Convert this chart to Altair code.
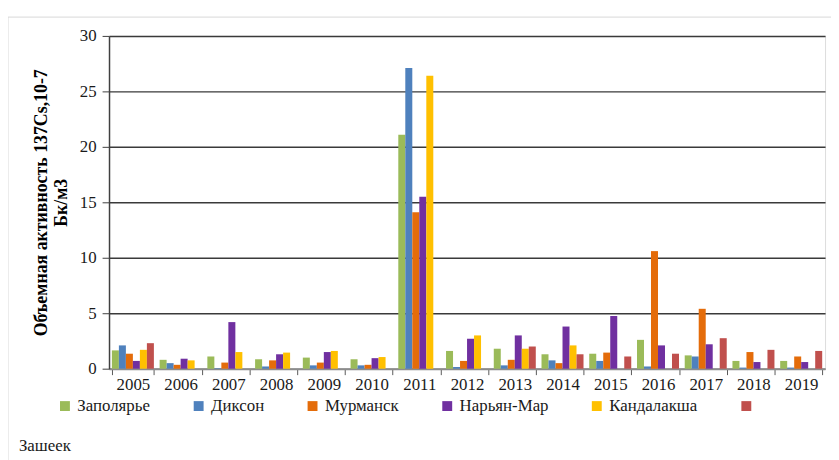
import altair as alt
import pandas as pd

years = ["2005", "2006", "2007", "2008", "2009", "2010", "2011", "2012",
         "2013", "2014", "2015", "2016", "2017", "2018", "2019"]
stations = ["Заполярье", "Диксон", "Мурманск", "Нарьян-Мар", "Кандалакша", "Зашеек"]
colors = ["#9BBB59", "#4F81BD", "#E46C0A", "#7030A0", "#FFC000", "#C0504D"]

zapolyarye = [1.65, 0.8, 1.1, 0.85, 1.0, 0.85, 21.1, 1.6, 1.8, 1.3, 1.35, 2.6, 1.2, 0.7, 0.7]
dikson = [2.1, 0.5, 0.05, 0.2, 0.3, 0.3, 27.1, 0.15, 0.3, 0.75, 0.7, 0.2, 1.1, 0.1, 0.1]
murmansk = [1.35, 0.35, 0.55, 0.75, 0.55, 0.35, 14.1, 0.7, 0.8, 0.5, 1.45, 10.6, 5.4, 1.5, 1.1]
naryan_mar = [0.7, 0.9, 4.2, 1.3, 1.5, 0.95, 15.5, 2.7, 3.0, 3.8, 4.75, 2.1, 2.2, 0.6, 0.6]
kandalaksha = [1.7, 0.75, 1.5, 1.45, 1.6, 1.05, 26.4, 3.0, 1.8, 2.1, None, None, None, None, None]
zasheek = [2.3, None, None, None, None, None, None, None, 2.0, 1.3, 1.1, 1.35, 2.75, 1.7, 1.6]

series = [zapolyarye, dikson, murmansk, naryan_mar, kandalaksha, zasheek]
y_ticks = [0, 5, 10, 15, 20, 25, 30]

rows = []
for st, vals in zip(stations, series):
    for yr, v in zip(years, vals):
        if v is not None:
            rows.append({"year": yr, "station": st, "value": v})
df = pd.DataFrame(rows)

FONT = "Liberation Serif"

bars = alt.Chart(df).mark_bar().encode(
    x=alt.X("year:N", sort=years,
            scale=alt.Scale(paddingInner=0.12, paddingOuter=0.06),
            axis=alt.Axis(title=None, labelAngle=0, tickBand="extent", tickSize=6,
                          tickColor="#595959", domainColor="#8c8c8c", domainWidth=2,
                          labelFont=FONT, labelFontSize=17, labelColor="#1a1a1a",
                          labelPadding=2, grid=False)),
    xOffset=alt.XOffset("station:N", sort=stations,
                        scale=alt.Scale(domain=stations, paddingInner=0, paddingOuter=0)),
    y=alt.Y("value:Q", scale=alt.Scale(domain=[0, 30], nice=False),
            axis=alt.Axis(values=y_ticks,
                          title=["Объемная активность 137Cs,10-7", "Бк/м3"],
                          titleFont=FONT, titleFontSize=18, titleFontWeight="bold",
                          titleColor="#000000", titleLineHeight=20,
                          titleAngle=270, titleBaseline="middle", titleAlign="center",
                          titleX=-68, titleY=168,
                          labelFont=FONT, labelFontSize=17, labelColor="#1a1a1a",
                          labelPadding=6, tickSize=7, tickColor="#404040",
                          domainColor="#404040", domainWidth=1.5,
                          grid=True, gridWidth=1.5,
                          gridColor={"condition": {"test": "datum.value === 0", "value": "#8c8c8c"},
                                     "value": "#3a3a3a"})),
    color=alt.Color("station:N", sort=stations,
                    scale=alt.Scale(domain=stations, range=colors),
                    legend=alt.Legend(title=None, orient="none", legendX=-53, legendY=365,
                                      direction="horizontal", columns=6, columnPadding=40,
                                      symbolType="square", symbolSize=100, symbolStrokeWidth=0,
                                      labelFont=FONT, labelFontSize=17,
                                      labelColor="#1a1a1a",
                                      labelOffset=4, labelLimit=300, padding=0,
                                      labelExpr="datum.label == 'Зашеек' ? '' : datum.label")),
)

extra = pd.DataFrame({"label": [stations[-1]]})
wrapped = alt.Chart(extra).mark_text(font=FONT, fontSize=17, color="#1a1a1a",
                                     align="left", baseline="middle").encode(
    x=alt.value(-91), y=alt.value(414), text="label:N")

frame = alt.Chart(extra).mark_rect(fillOpacity=0, stroke="#d9d9d9", strokeWidth=1).encode(
    x=alt.value(-102), x2=alt.value(760), y=alt.value(-19), y2=alt.value(460))

chart = alt.layer(frame, bars, wrapped).properties(
    width=723, height=336,
    padding={"left": 102, "top": 26, "right": 6, "bottom": 90},
    autosize=alt.AutoSizeParams(type="none"),
).configure_view(stroke=None).configure(background="white")

chart.save("out.html", embed_options={"renderer": "svg", "actions": False})
